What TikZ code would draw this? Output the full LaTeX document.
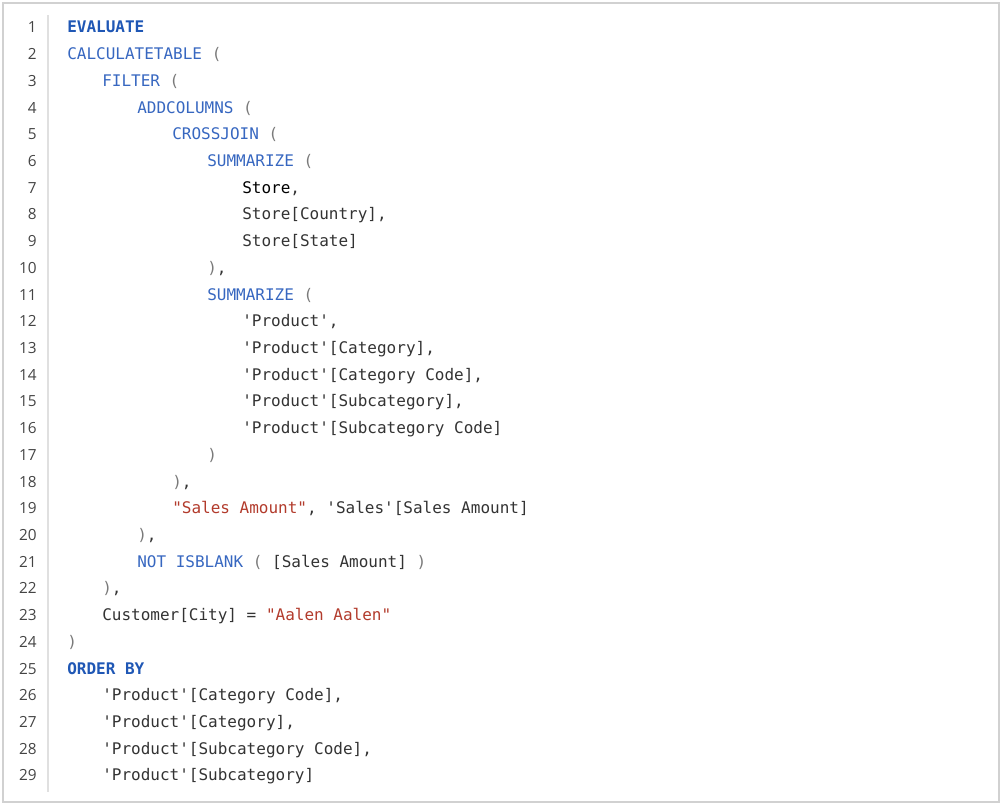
\documentclass[tikz,border=0pt]{standalone}
\usepackage{fontspec}
\setmainfont{Open Sans}
\setmonofont{DejaVu Sans Mono}
\usetikzlibrary{positioning}
\definecolor{kwblue}{HTML}{1F57B5}
\definecolor{fnblue}{HTML}{3767C0}
\definecolor{strred}{HTML}{B23B2C}
\definecolor{codegray}{HTML}{333333}
\definecolor{pargray}{HTML}{7A7A7A}
\definecolor{numgray}{HTML}{444444}
\newcommand{\kw}[1]{\textcolor{kwblue}{\textbf{#1}}}
\newcommand{\fn}[1]{\textcolor{fnblue}{#1}}
\newcommand{\str}[1]{\textcolor{strred}{#1}}
\newcommand{\pr}[1]{\textcolor{pargray}{#1}}
\begin{document}
\begin{tikzpicture}[x=0.75pt,y=-0.75pt,
    linenum/.style={anchor=base east, inner sep=0pt, font=\fontsize{11.5}{12}\selectfont, text=numgray},
    codeline/.style={anchor=base west, inner sep=0pt, font=\ttfamily\fontsize{12}{13}\selectfont, text=codegray}
]
\useasboundingbox (0,0) rectangle (1002,805);
\draw[black!18, line width=1pt] (3,3) rectangle (999,802);
\draw[black!12, line width=0.8pt] (48,15) -- (48,792);

% line numbers and code
\foreach \n/\txt in {
 1/{\kw{EVALUATE}},
 2/{\fn{CALCULATETABLE} \pr{(}},
 3/{\hspace*{4ex}\fn{FILTER} \pr{(}},
 4/{\hspace*{8ex}\fn{ADDCOLUMNS} \pr{(}},
 5/{\hspace*{12ex}\fn{CROSSJOIN} \pr{(}},
 6/{\hspace*{16ex}\fn{SUMMARIZE} \pr{(}},
 7/{\hspace*{20ex}\textcolor{black}{Store},},
 8/{\hspace*{20ex}Store[Country],},
 9/{\hspace*{20ex}Store[State]},
 10/{\hspace*{16ex}\pr{)},},
 11/{\hspace*{16ex}\fn{SUMMARIZE} \pr{(}},
 12/{\hspace*{20ex}'Product',},
 13/{\hspace*{20ex}'Product'[Category],},
 14/{\hspace*{20ex}'Product'[Category Code],},
 15/{\hspace*{20ex}'Product'[Subcategory],},
 16/{\hspace*{20ex}'Product'[Subcategory Code]},
 17/{\hspace*{16ex}\pr{)}},
 18/{\hspace*{12ex}\pr{)},},
 19/{\hspace*{12ex}\str{"Sales Amount"}, 'Sales'[Sales Amount]},
 20/{\hspace*{8ex}\pr{)},},
 21/{\hspace*{8ex}\fn{NOT} \fn{ISBLANK} \pr{(} [Sales Amount] \pr{)}},
 22/{\hspace*{4ex}\pr{)},},
 23/{\hspace*{4ex}Customer[City] = \str{"Aalen Aalen"}},
 24/{\pr{)}},
 25/{\kw{ORDER BY}},
 26/{\hspace*{4ex}'Product'[Category Code],},
 27/{\hspace*{4ex}'Product'[Category],},
 28/{\hspace*{4ex}'Product'[Subcategory Code],},
 29/{\hspace*{4ex}'Product'[Subcategory]}}
{
  \pgfmathsetmacro{\yb}{33+(\n-1)*26.71}
  \node[linenum] (num\n) at (37,\yb) {\n};
  \node[codeline] (code\n) at (67,\yb) {\txt};
}
\end{tikzpicture}
\end{document}
